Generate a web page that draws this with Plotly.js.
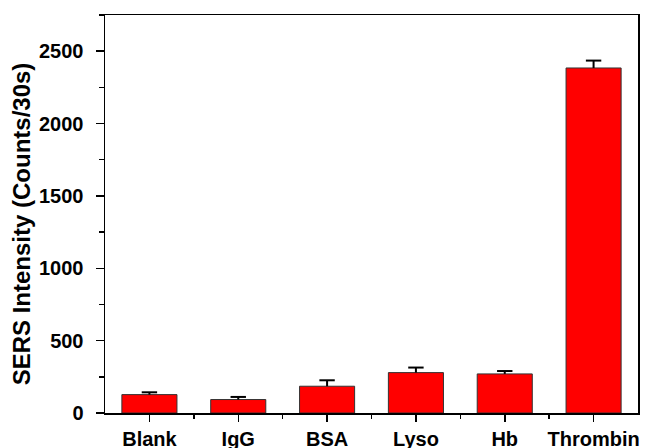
<!DOCTYPE html>
<html>
<head>
<meta charset="utf-8">
<script src="https://cdn.plot.ly/plotly-3.0.1.min.js"></script>
<style>html,body{margin:0;padding:0;background:#fff;}#chart{width:646px;height:448px;}</style>
</head>
<body>
<div id="chart"></div>
<script>
const categories = ["Blank", "IgG", "BSA", "Lyso", "Hb", "Thrombin"];
const intensity = [127, 93, 185, 279, 270, 2384];
const errorPlus = [16, 18, 41, 35, 20, 51];
const yTicks = [0, 500, 1000, 1500, 2000, 2500];

const xIdx = categories.map((c, i) => i);
const fam = "Liberation Sans, Arial, sans-serif";

const bars = {
  type: "bar",
  x: xIdx,
  y: intensity,
  width: 0.62,
  marker: {color: "#ff0000", line: {color: "#333", width: 1}},
  hoverinfo: "skip"
};

// upper error bar stems (from bar top to top of error)
const stemX = [], stemY = [];
xIdx.forEach((x, i) => { stemX.push(x, x, null); stemY.push(intensity[i], intensity[i] + errorPlus[i], null); });
const stems = {
  type: "scatter", mode: "lines", x: stemX, y: stemY,
  line: {color: "#000", width: 2}, hoverinfo: "skip", cliponaxis: false
};
const caps = {
  type: "scatter", mode: "markers", x: xIdx, y: intensity.map((v, i) => v + errorPlus[i]),
  marker: {symbol: "line-ew", size: 11, color: "#000", line: {color: "#000", width: 2}},
  hoverinfo: "skip", cliponaxis: false
};

const layout = {
  width: 646, height: 448,
  margin: {l: 105, r: 8, t: 15, b: 35},
  paper_bgcolor: "#fff", plot_bgcolor: "#fff",
  showlegend: false,
  font: {family: fam, size: 20, color: "#000"},
  xaxis: {
    range: [-0.5, 5.5],
    tickmode: "array", tickvals: xIdx, ticktext: categories.map(c => "<b>" + c + "</b>"),
    ticks: "outside", ticklen: 7, tickwidth: 1.5, tickcolor: "#000",
    minor: {tickmode: "array", tickvals: xIdx.slice(0, -1).map(i => i + 0.5), ticks: "outside", ticklen: 4, tickwidth: 1.5, tickcolor: "#000"},
    showline: true, linecolor: "#000", linewidth: 1.5, mirror: true,
    showgrid: false, zeroline: false,
    tickfont: {family: fam, size: 20, color: "#000"}
  },
  yaxis: {
    range: [0, 2750],
    tickmode: "array", tickvals: yTicks, ticktext: yTicks.map(v => "<b>" + v + "</b>"),
    ticks: "outside", ticklen: 8, tickwidth: 1.5, tickcolor: "#000",
    ticklabelstandoff: 8,
    minor: {tickmode: "array", tickvals: yTicks.map(v => v + 250), ticks: "outside", ticklen: 5, tickwidth: 1.5, tickcolor: "#000"},
    showline: true, linecolor: "#000", linewidth: 1.5, mirror: true,
    showgrid: false, zeroline: false,
    tickfont: {family: fam, size: 20, color: "#000"},
    title: {text: "<b>SERS Intensity (Counts/30s)\u00a0\u00a0\u00a0</b>", font: {family: fam, size: 24, color: "#000"}, standoff: 1}
  }
};

Plotly.newPlot("chart", [bars, stems, caps], layout, {displayModeBar: false, staticPlot: true});
</script>
</body>
</html>
